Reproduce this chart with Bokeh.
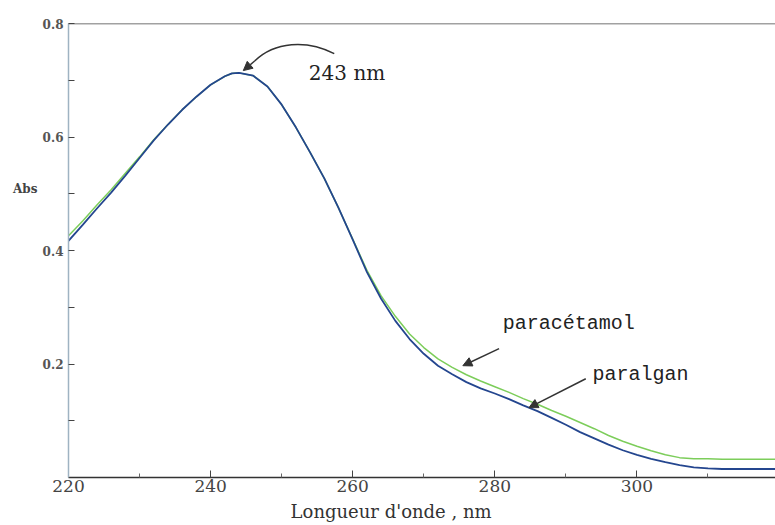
from bokeh.plotting import figure
from bokeh.models import Range1d, FixedTicker, Label, Arrow, NormalHead, Span, LinearAxis
from bokeh.embed import file_html
from bokeh.resources import INLINE

# ---- data ----
wavelength = [220, 222, 224, 226, 228, 230, 232, 234, 236, 238, 240, 242, 243, 244,
              246, 248, 250, 252, 254, 256, 258, 260, 262, 264, 266, 268, 270, 272,
              274, 276, 278, 280, 282, 284, 286, 288, 290, 292, 294, 296, 298, 300,
              302, 304, 306, 308, 310, 312, 314, 316, 318, 320]
paralgan = [0.417, 0.445, 0.474, 0.502, 0.532, 0.563, 0.594, 0.622, 0.648, 0.671, 0.692,
            0.707, 0.712, 0.713, 0.708, 0.689, 0.657, 0.617, 0.573, 0.527, 0.475, 0.419,
            0.362, 0.315, 0.276, 0.244, 0.218, 0.197, 0.182, 0.168, 0.157, 0.148, 0.138,
            0.127, 0.117, 0.105, 0.093, 0.080, 0.069, 0.058, 0.048, 0.040, 0.033, 0.027,
            0.022, 0.018, 0.016, 0.015, 0.015, 0.015, 0.015, 0.015]
paracetamol = [0.426, 0.452, 0.480, 0.507, 0.536, 0.565, 0.595, 0.622, 0.648, 0.671, 0.692,
               0.707, 0.712, 0.713, 0.708, 0.689, 0.657, 0.617, 0.573, 0.527, 0.475, 0.420,
               0.365, 0.320, 0.284, 0.253, 0.229, 0.209, 0.194, 0.181, 0.170, 0.160, 0.150,
               0.139, 0.129, 0.118, 0.108, 0.097, 0.086, 0.074, 0.064, 0.055, 0.047, 0.040,
               0.035, 0.033, 0.033, 0.032, 0.032, 0.032, 0.032, 0.032]
x_ticks = [220, 240, 260, 280, 300]
x_minor = [230, 250, 270, 290, 310]
y_ticks = [0.2, 0.4, 0.6, 0.8]
y_minor = [0.1, 0.3, 0.5, 0.7]
peak_label = "243 nm"
series_names = ["paracétamol", "paralgan"]
x_title = "Longueur d'onde , nm"
y_title = "Abs"

p = figure(width=775, height=525, output_backend="svg", toolbar_location=None,
           x_range=Range1d(220, 319.5), y_range=Range1d(0, 0.8),
           min_border_left=68, min_border_right=0, min_border_top=23, min_border_bottom=48)
p.outline_line_color = None
p.background_fill_color = "white"
p.border_fill_color = "white"
p.xgrid.visible = False
p.ygrid.visible = False

# axes
p.xaxis.ticker = FixedTicker(ticks=x_ticks, minor_ticks=x_minor)
p.yaxis.ticker = FixedTicker(ticks=y_ticks, minor_ticks=y_minor)
p.yaxis.major_label_overrides = {t: f"{t:.1f}" for t in y_ticks}
for ax in (p.xaxis, p.yaxis):
    ax.major_tick_out = 0
    ax.minor_tick_out = 0
p.xaxis.major_tick_in = 7
p.xaxis.minor_tick_in = 4
p.yaxis.major_tick_in = 6
p.yaxis.minor_tick_in = 6
p.xaxis.axis_line_color = "#333333"
p.xaxis.axis_line_width = 1.5
p.yaxis.axis_line_color = "#9fb3c2"
p.yaxis.axis_line_width = 1.5
p.xaxis.major_tick_line_color = "#444444"
p.xaxis.minor_tick_line_color = "#666666"
p.yaxis.major_tick_line_color = "#444444"
p.yaxis.minor_tick_line_color = "#444444"
p.xaxis.major_label_text_font = "DejaVu Serif"
p.xaxis.major_label_text_font_size = "17px"
p.xaxis.major_label_text_color = "#444444"
p.xaxis.major_label_standoff = 2
p.yaxis.major_label_text_font = "DejaVu Serif"
p.yaxis.major_label_text_font_size = "12px"
p.yaxis.major_label_text_font_style = "bold"
p.yaxis.major_label_text_color = "#555555"
p.yaxis.major_label_standoff = 5

# axis titles placed as single-tick label axes so they sit where the reference has them
y_title_pos = 0.509
abs_axis = LinearAxis(ticker=FixedTicker(ticks=[y_title_pos], minor_ticks=[]),
                      major_label_overrides={y_title_pos: y_title},
                      axis_line_color=None, major_tick_line_color=None,
                      minor_tick_line_color=None, major_label_standoff=-4,
                      major_label_text_font="DejaVu Serif",
                      major_label_text_font_size="12px",
                      major_label_text_font_style="bold",
                      major_label_text_color="#444444")
p.add_layout(abs_axis, "left")
x_title_pos = 265.4
title_axis = LinearAxis(ticker=FixedTicker(ticks=[x_title_pos], minor_ticks=[]),
                        major_label_overrides={x_title_pos: x_title},
                        axis_line_color=None, major_tick_line_color=None,
                        minor_tick_line_color=None, major_label_standoff=0,
                        major_label_text_font="DejaVu Serif",
                        major_label_text_font_size="18px",
                        major_label_text_color="#333333")
p.add_layout(title_axis, "below")

p.add_layout(Span(location=0.8, dimension="width", line_color="#444444", line_width=1.5))

# curves
p.line(wavelength, paracetamol, line_color="#7ccd5a", line_width=1.5)
p.line(wavelength, paralgan, line_color="#24468f", line_width=1.8)

# annotations
p.add_layout(Label(x=259.2, y=0.712, text=peak_label, text_font="DejaVu Serif",
                   text_font_size="20px", text_color="#222222",
                   text_align="center", text_baseline="middle"))
p.add_layout(Label(x=290.4, y=0.272, text=series_names[0], text_font="Liberation Mono",
                   text_font_size="20px", text_color="#222222",
                   text_align="center", text_baseline="middle"))
p.add_layout(Label(x=300.5, y=0.181, text=series_names[1], text_font="Liberation Mono",
                   text_font_size="20px", text_color="#222222",
                   text_align="center", text_baseline="middle"))

# arrows
p.add_layout(Arrow(x_start=280.6, y_start=0.227, x_end=275.5, y_end=0.197,
                   line_color="#333333", line_width=1.5,
                   end=NormalHead(size=9, fill_color="#333333", line_color="#333333")))
p.add_layout(Arrow(x_start=292.8, y_start=0.174, x_end=284.8, y_end=0.123,
                   line_color="#333333", line_width=1.5,
                   end=NormalHead(size=9, fill_color="#333333", line_color="#333333")))
p.bezier(x0=257.4, y0=0.747, x1=246.2, y1=0.734, cx0=253.5, cy0=0.772, cx1=249.0, cy1=0.768,
         line_color="#333333", line_width=1.5)
p.add_layout(Arrow(x_start=246.2, y_start=0.734, x_end=244.6, y_end=0.717,
                   line_color="#333333", line_width=1.5,
                   end=NormalHead(size=9, fill_color="#333333", line_color="#333333")))

open("out.html", "w").write(file_html(p, INLINE))
